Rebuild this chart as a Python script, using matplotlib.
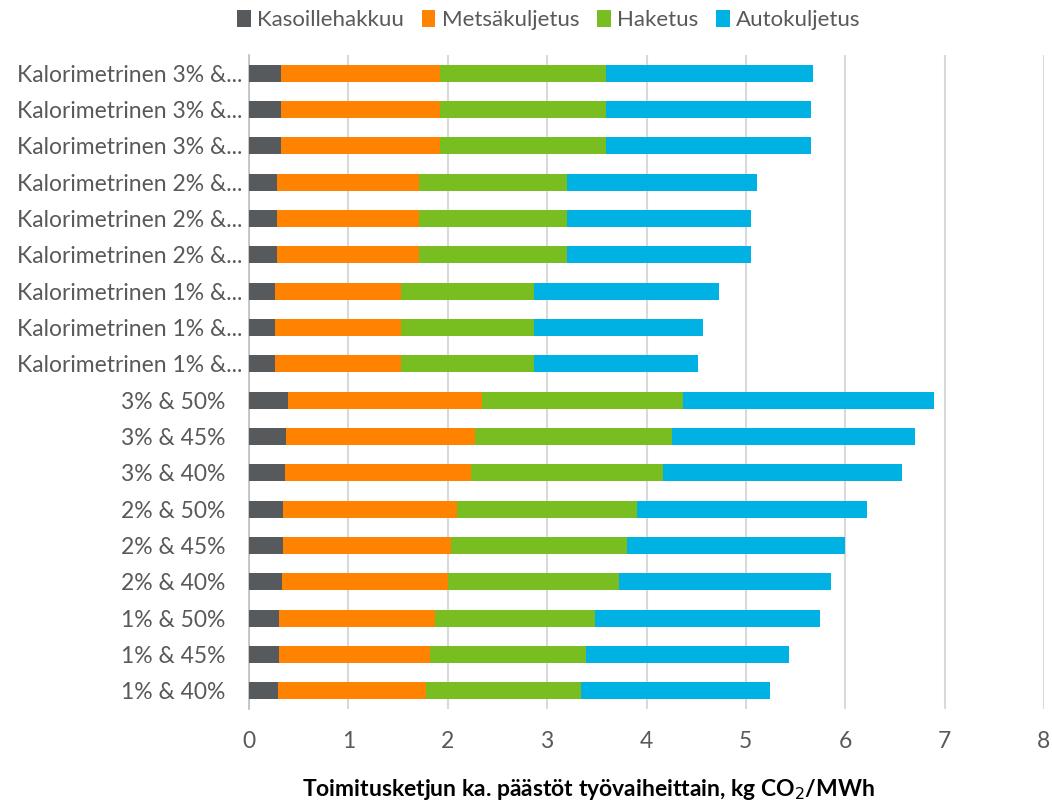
import matplotlib
matplotlib.use("Agg")
import matplotlib.pyplot as plt
import matplotlib.transforms as mtransforms
import numpy as np

plt.rcParams['font.family'] = ['Lato', 'DejaVu Sans']

# Categories bottom to top
categories = [
    "1% & 40%", "1% & 45%", "1% & 50%",
    "2% & 40%", "2% & 45%", "2% & 50%",
    "3% & 40%", "3% & 45%", "3% & 50%",
    "Kalorimetrinen 1% &...", "Kalorimetrinen 1% &...", "Kalorimetrinen 1% &...",
    "Kalorimetrinen 2% &...", "Kalorimetrinen 2% &...", "Kalorimetrinen 2% &...",
    "Kalorimetrinen 3% &...", "Kalorimetrinen 3% &...", "Kalorimetrinen 3% &...",
]

# cumulative end points (bottom to top)
kasoillehakkuu = [0.29, 0.305, 0.305, 0.33, 0.34, 0.34, 0.36, 0.375, 0.39,
                  0.26, 0.26, 0.26, 0.285, 0.285, 0.285, 0.32, 0.32, 0.32]
metsakuljetus_end = [1.786, 1.819, 1.874, 1.999, 2.031, 2.096, 2.230, 2.277, 2.341,
                     1.533, 1.533, 1.533, 1.714, 1.714, 1.714, 1.926, 1.926, 1.926]
haketus_end = [3.336, 3.392, 3.480, 3.725, 3.799, 3.901, 4.165, 4.253, 4.364,
               2.866, 2.866, 2.866, 3.201, 3.201, 3.201, 3.594, 3.594, 3.594]
total = [5.243, 5.433, 5.747, 5.858, 5.997, 6.215, 6.576, 6.705, 6.890,
         4.522, 4.572, 4.730, 5.050, 5.050, 5.112, 5.651, 5.651, 5.674]

metsakuljetus = list(np.array(metsakuljetus_end) - np.array(kasoillehakkuu))
haketus = list(np.array(haketus_end) - np.array(metsakuljetus_end))
autokuljetus = list(np.array(total) - np.array(haketus_end))

series_names = ["Kasoillehakkuu", "Metsäkuljetus", "Haketus", "Autokuljetus"]
colors = ["#565a5c", "#ff8200", "#78be20", "#00b2e3"]
x_ticks = [0, 1, 2, 3, 4, 5, 6, 7, 8]

fig = plt.figure(figsize=(10.52, 8.08), dpi=100)
ax = fig.add_axes([249/1052, 1-709/808, (1044-249)/1052, (709-55)/808])

y = np.arange(len(categories))
left = np.zeros(len(categories))
for name, vals, c in zip(series_names, [kasoillehakkuu, metsakuljetus, haketus, autokuljetus], colors):
    ax.barh(y, vals, left=left, height=0.47, color=c, label=name, zorder=3)
    left = left + np.array(vals)

ax.set_xlim(0, 8)
ax.set_ylim(-0.5, len(categories) - 0.5)
ax.set_xticks(x_ticks)
ax.set_yticks(y)
ax.set_yticklabels(categories)
ax.grid(axis='x', color='#d9d9d9', linewidth=1.5, zorder=0)
for s in ['top', 'right', 'bottom']:
    ax.spines[s].set_visible(False)
ax.spines['left'].set_color('#bfbfbf')
ax.spines['left'].set_linewidth(1.2)
ax.tick_params(axis='y', length=0, pad=5, labelsize=16.5, labelcolor='#595959')
ax.tick_params(axis='x', length=0, pad=16, labelsize=16.5, labelcolor='#595959')

# the short labels sit a little further from the axis, as in the reference
shift = mtransforms.ScaledTranslation(-17/100, 0, fig.dpi_scale_trans)
for lab in ax.get_yticklabels():
    if not lab.get_text().startswith("Kalorimetrinen"):
        lab.set_transform(lab.get_transform() + shift)

fig.text(0.559, 1-790/808, "Toimitusketjun ka. päästöt työvaiheittain, kg CO$_2$/MWh",
         ha='center', va='center', fontsize=16.5, fontweight='bold', color='black')

fig.legend(loc='center', bbox_to_anchor=(0.522, 1-20/808), ncol=4, frameon=False,
           fontsize=16, handlelength=0.6, handleheight=0.8, handletextpad=0.3,
           columnspacing=0.8, labelcolor='#595959')

fig.savefig("out.png", dpi=100)
